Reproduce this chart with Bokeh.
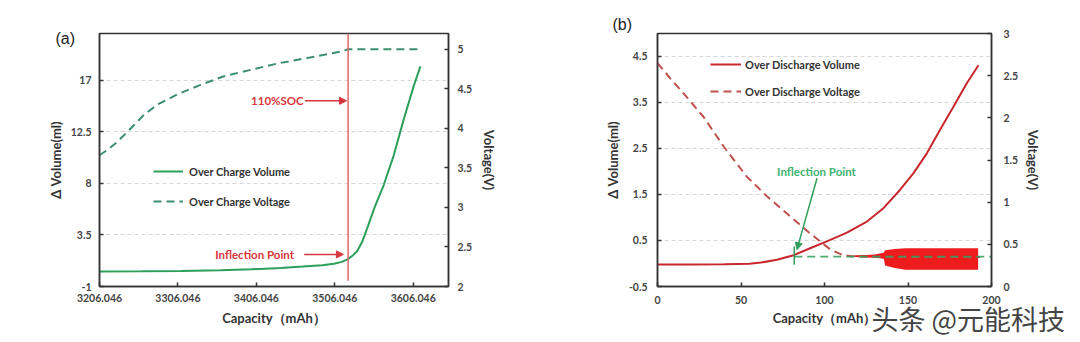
from bokeh.plotting import figure
from bokeh.layouts import row
from bokeh.models import (Range1d, LinearAxis, FixedTicker, Legend, LegendItem,
                          Arrow, NormalHead, Label, Title)
from bokeh.embed import file_html
from bokeh.resources import INLINE

# ---------------- data: panel (a) over charge ----------------
a_vol_cap = [3206.046, 3260, 3310, 3360, 3400, 3437, 3465, 3490, 3505, 3515, 3522,
             3528, 3534.5, 3541, 3549, 3557, 3568.4, 3581.2, 3594, 3606.7, 3615.2]
a_vol = [0.30, 0.32, 0.36, 0.42, 0.50, 0.62, 0.74, 0.86, 0.98, 1.15, 1.37,
         1.65, 2.08, 2.9, 4.4, 5.95, 7.85, 10.44, 13.6, 16.5, 18.2]
a_volt_cap = [3206.046, 3218, 3228.7, 3240, 3249.9, 3262.6, 3279.7, 3305.2, 3334.9,
              3364.6, 3398.6, 3432.6, 3470.8, 3513.3, 3523, 3613.5]
a_volt = [3.66, 3.74, 3.83, 3.94, 4.04, 4.17, 4.30, 4.43, 4.55, 4.66, 4.74, 4.82,
          4.89, 4.97, 5.0, 5.0]
a_soc_cap = 3523
a_xticks = [3206.046, 3306.046, 3406.046, 3506.046, 3606.046]
a_xtick_labels = ["3206.046", "3306.046", "3406.046", "3506.046", "3606.046"]
a_yticks = [-1, 3.5, 8, 12.5, 17]
a_ytick_labels = ["-1", "3.5", "8", "12.5", "17"]
a_y2ticks = [2, 2.5, 3, 3.5, 4, 4.5, 5]
a_y2tick_labels = ["2", "2.5", "3", "3.5", "4", "4.5", "5"]

# ---------------- data: panel (b) over discharge ----------------
b_vol_cap = [0, 20, 40, 55, 62, 71.5, 81.5, 91.4, 101.4, 113.4, 125.4, 135.3,
             145.3, 153.3, 161.3, 169.2, 177.2, 185.2, 192.2]
b_vol = [-0.02, -0.02, -0.015, -0.005, 0.02, 0.08, 0.18, 0.33, 0.48, 0.67, 0.91,
         1.2, 1.6, 1.96, 2.39, 2.9, 3.4, 3.91, 4.3]
b_volt_cap = [0, 8, 15.6, 27.6, 39.6, 53.6, 65.5, 79.5, 91.4, 103.4, 110, 116,
              122, 136, 193]
b_volt = [2.65, 2.46, 2.29, 2.01, 1.66, 1.30, 1.07, 0.83, 0.63, 0.44, 0.38, 0.36,
          0.355, 0.35, 0.35]
b_band_cap = [118, 125, 130, 135.5, 136.3, 142, 148.5, 170, 192]
b_band_lo = [0.35, 0.345, 0.34, 0.33, 0.25, 0.22, 0.20, 0.20, 0.20]
b_band_hi = [0.37, 0.375, 0.38, 0.40, 0.43, 0.445, 0.455, 0.455, 0.455]
b_infl_cap = 81.9
b_infl_volt = 0.355
b_xticks = [0, 50, 100, 150, 200]
b_xtick_labels = ["0", "50", "100", "150", "200"]
b_yticks = [-0.5, 0.5, 1.5, 2.5, 3.5, 4.5]
b_ytick_labels = ["-0.5", "0.5", "1.5", "2.5", "3.5", "4.5"]
b_y2ticks = [0, 0.5, 1, 1.5, 2, 2.5, 3]
b_y2tick_labels = ["0", "0.5", "1", "1.5", "2", "2.5", "3"]

FONT = "Lato"
AX = "#333333"


def style_axis(ax, ticks, labels, standoff, label_standoff):
    ax.ticker = FixedTicker(ticks=ticks)
    ax.major_label_overrides = {t: l for t, l in zip(ticks, labels)}
    ax.major_label_text_font = FONT
    ax.major_label_text_font_style = "bold"
    ax.major_label_text_font_size = "10.5px"
    ax.major_label_text_color = "#444444"
    ax.axis_label_text_font = FONT
    ax.axis_label_text_font_style = "bold"
    ax.axis_label_text_font_size = "13px"
    ax.axis_label_text_color = AX
    ax.axis_line_color = AX
    ax.axis_line_width = 1.5
    ax.major_tick_in = 4
    ax.major_tick_out = 0
    ax.major_tick_line_color = AX
    ax.major_tick_line_width = 1.5
    ax.minor_tick_line_color = None
    ax.major_label_standoff = standoff
    ax.axis_label_standoff = label_standoff


def base_fig(xr, yr, bl, br, bt, bb):
    p = figure(width=540, height=342, x_range=xr, y_range=yr,
               output_backend="svg", toolbar_location=None,
               min_border_left=bl, min_border_right=br,
               min_border_top=bt, min_border_bottom=bb)
    p.outline_line_color = AX
    p.outline_line_width = 1.5
    p.xgrid.grid_line_color = None
    p.ygrid.grid_line_color = "#d6d6d6"
    p.ygrid.grid_line_dash = "4 3"
    p.ygrid.grid_line_width = 1
    p.background_fill_color = "white"
    p.border_fill_color = "white"
    return p


# ---------------- panel (a) ----------------
pa = base_fig(Range1d(3206.046, 3651), Range1d(-1, 21.07), 99, 92, 30, 56)
pa.extra_y_ranges = {"v": Range1d(2, 5.2)}
pa.xaxis.axis_label = "Capacity（mAh）"
pa.yaxis.axis_label = "Δ Volume(ml)"
style_axis(pa.xaxis[0], a_xticks, a_xtick_labels, 7, 5)
style_axis(pa.yaxis[0], a_yticks, a_ytick_labels, 8, 4)
ra = LinearAxis(y_range_name="v", axis_label="Voltage(V)")
style_axis(ra, a_y2ticks, a_y2tick_labels, 9, 6)
pa.add_layout(ra, "right")
pa.ygrid.ticker = FixedTicker(ticks=a_yticks[1:])

ga_volt = pa.line(a_volt_cap, a_volt, y_range_name="v", line_color="#3c8f6e",
                  line_width=2, line_dash="8 5")
ga_vol = pa.line(a_vol_cap, a_vol, line_color="#2ca05a", line_width=2)
pa.segment(x0=[a_soc_cap], y0=[-0.5], x1=[a_soc_cap], y1=[21.07],
           line_color="#e06666", line_width=1.5)

red_t = "#d6363c"
pa.add_layout(Arrow(end=NormalHead(size=7, fill_color=red_t, line_color=red_t),
                    x_start=3468, y_start=15.2, x_end=3521, y_end=15.2,
                    line_color=red_t, line_width=1.5))
pa.add_layout(Arrow(end=NormalHead(size=7, fill_color=red_t, line_color=red_t),
                    x_start=3467, y_start=1.8, x_end=3517, y_end=1.8,
                    line_color=red_t, line_width=1.5))
pa.add_layout(Label(x=3466.4, y=15.2, text="110%SOC", text_align="right",
                    text_baseline="middle", text_font=FONT, text_font_style="bold",
                    text_font_size="11.5px", text_color=red_t))
pa.add_layout(Label(x=3454, y=1.8, text="Inflection Point", text_align="right",
                    text_baseline="middle", text_font=FONT, text_font_style="bold",
                    text_font_size="11.5px", text_color=red_t))
pa.add_layout(Title(text="(a)", align="left", offset=-44, standoff=-27,
                    text_font="Liberation Sans", text_font_style="normal",
                    text_font_size="16px", text_color="#222222"), "above")

lega = Legend(items=[LegendItem(label="Over Charge Volume", renderers=[ga_vol]),
                     LegendItem(label="Over Charge Voltage", renderers=[ga_volt])],
              location=(54, 75), background_fill_alpha=0, border_line_alpha=0,
              glyph_width=30, glyph_height=20, label_height=20, spacing=10,
              padding=0, margin=0, label_standoff=6,
              label_text_font=FONT, label_text_font_style="bold",
              label_text_font_size="11px", label_text_color=AX)
pa.add_layout(lega)

# ---------------- panel (b) ----------------
pb = base_fig(Range1d(0, 200), Range1d(-0.5, 4.99), 117, 89, 33, 55)
pb.extra_y_ranges = {"v": Range1d(0, 3)}
pb.xaxis.axis_label = "Capacity（mAh）"
pb.yaxis.axis_label = "Δ Volume(ml)"
style_axis(pb.xaxis[0], b_xticks, b_xtick_labels, 9, 3)
style_axis(pb.yaxis[0], b_yticks, b_ytick_labels, 10, 5)
rb = LinearAxis(y_range_name="v", axis_label="Voltage(V)")
style_axis(rb, b_y2ticks, b_y2tick_labels, 12, 4)
pb.add_layout(rb, "right")
pb.ygrid.ticker = FixedTicker(ticks=b_yticks[1:])

pb.varea(x=b_band_cap, y1=b_band_lo, y2=b_band_hi, y_range_name="v",
         fill_color="#ee1c1c")
gb_volt = pb.line(b_volt_cap, b_volt, y_range_name="v", line_color="#c0504d",
                  line_width=2, line_dash="8 5")
gb_vol = pb.line(b_vol_cap, b_vol, line_color="#c8282d", line_width=2)
green = "#2e9e5b"
pb.line([b_infl_cap, 200], [b_infl_volt, b_infl_volt], y_range_name="v",
        line_color=green, line_width=1.8, line_dash="8 5", alpha=0.85)
pb.segment(x0=[b_infl_cap], y0=[-0.03], x1=[b_infl_cap], y1=[0.37],
           line_color=green, line_width=1.5)
pb.add_layout(Arrow(end=NormalHead(size=7, fill_color=green, line_color=green),
                    x_start=95.5, y_start=1.85, x_end=83.5, y_end=0.3,
                    line_color=green, line_width=1.5))
pb.add_layout(Label(x=95.2, y=2.0, text="Inflection Point", text_align="center",
                    text_baseline="middle", text_font=FONT, text_font_style="bold",
                    text_font_size="11.5px", text_color="#3cb371"))
pb.add_layout(Title(text="(b)", align="left", offset=-45, standoff=2,
                    text_font="Liberation Sans", text_font_style="normal",
                    text_font_size="16px", text_color="#222222"), "above")

legb = Legend(items=[LegendItem(label="Over Discharge Volume", renderers=[gb_vol]),
                     LegendItem(label="Over Discharge Voltage", renderers=[gb_volt])],
              location=(53, 185), background_fill_alpha=0, border_line_alpha=0,
              glyph_width=31, glyph_height=20, label_height=20, spacing=7,
              padding=0, margin=0, label_standoff=4,
              label_text_font=FONT, label_text_font_style="bold",
              label_text_font_size="11px", label_text_color=AX)
pb.add_layout(legb)

# watermark
pb.add_layout(Title(text="头条 @元能科技", align="left", offset=214, standoff=-60,
                    vertical_align="top",
                    text_font="Noto Sans CJK SC", text_font_style="normal",
                    text_font_size="27px", text_color="#444444"), "below")

layout = row(pa, pb)
open("out.html", "w").write(file_html(layout, INLINE))
